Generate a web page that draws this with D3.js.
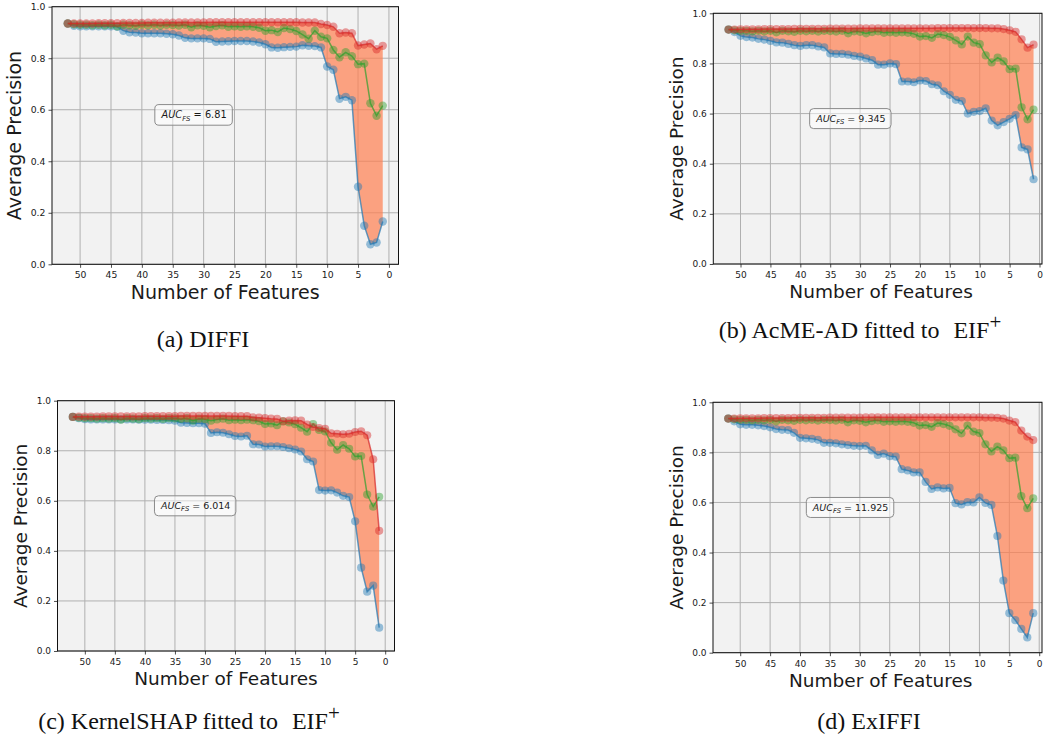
<!DOCTYPE html>
<html>
<head>
<meta charset="utf-8">
<script src="https://cdn.jsdelivr.net/npm/d3@7"></script>
<style>
  body { margin: 0; background: #fff; }
  svg text { font-family: "DejaVu Sans", sans-serif; fill: #1a1a1a; }
  svg text.caption { font-family: "Liberation Serif", "Times New Roman", serif; fill: #111; }
</style>
</head>
<body>
<div id="fig"></div>
<script>
// number of features kept (x axis), from all features down to one
var features = [52, 51, 50, 49, 48, 47, 46, 45, 44, 43, 42, 41, 40, 39, 38, 37, 36, 35, 34, 33, 32, 31, 30, 29, 28, 27,
                26, 25, 24, 23, 22, 21, 20, 19, 18, 17, 16, 15, 14, 13, 12, 11, 10, 9, 8, 7, 6, 5, 4, 3, 2, 1];
var xTicks = [50, 45, 40, 35, 30, 25, 20, 15, 10, 5, 0];
var yTicks = [0.0, 0.2, 0.4, 0.6, 0.8, 1.0];

// random feature order (green), same in every panel
var randomAP = [0.935, 0.932, 0.930, 0.930, 0.928, 0.930, 0.928, 0.930, 0.924, 0.930, 0.928, 0.926, 0.930, 0.928, 0.930, 0.927, 0.930, 0.929, 0.927, 0.930,
                0.920, 0.928, 0.926, 0.920, 0.925, 0.928, 0.922, 0.924, 0.922, 0.924, 0.922, 0.918, 0.907, 0.909, 0.902, 0.917, 0.913, 0.906, 0.892, 0.876,
                0.907, 0.883, 0.877, 0.832, 0.804, 0.823, 0.808, 0.777, 0.779, 0.625, 0.577, 0.616];

// (a) DIFFI
var diffiTop = [0.935, 0.935, 0.935, 0.935, 0.935, 0.936, 0.936, 0.936, 0.936, 0.937, 0.937, 0.937, 0.937, 0.938, 0.938, 0.938, 0.938, 0.938, 0.939, 0.939,
                0.939, 0.939, 0.939, 0.940, 0.940, 0.940, 0.940, 0.940, 0.940, 0.940, 0.940, 0.940, 0.940, 0.940, 0.940, 0.940, 0.940, 0.940, 0.939, 0.939,
                0.939, 0.933, 0.929, 0.922, 0.897, 0.900, 0.897, 0.849, 0.853, 0.857, 0.835, 0.848];
var diffiBottom = [0.935, 0.926, 0.924, 0.924, 0.924, 0.924, 0.924, 0.924, 0.922, 0.907, 0.901, 0.900, 0.897, 0.897, 0.897, 0.897, 0.895, 0.893, 0.888, 0.879,
                   0.877, 0.877, 0.877, 0.875, 0.864, 0.865, 0.866, 0.867, 0.867, 0.867, 0.865, 0.861, 0.854, 0.842, 0.841, 0.843, 0.844, 0.845, 0.850, 0.848,
                   0.847, 0.842, 0.768, 0.755, 0.643, 0.650, 0.637, 0.301, 0.150, 0.078, 0.085, 0.166];

// (b) AcME-AD fitted to EIF+
var acmeTop = [0.935, 0.935, 0.936, 0.936, 0.936, 0.936, 0.937, 0.937, 0.937, 0.937, 0.937, 0.938, 0.938, 0.938, 0.938, 0.938, 0.938, 0.939, 0.939, 0.939,
               0.939, 0.939, 0.940, 0.940, 0.940, 0.940, 0.940, 0.940, 0.940, 0.940, 0.940, 0.940, 0.940, 0.940, 0.940, 0.941, 0.941, 0.941, 0.941, 0.941,
               0.941, 0.941, 0.941, 0.941, 0.940, 0.940, 0.937, 0.932, 0.926, 0.896, 0.863, 0.875];
var acmeBottom = [0.935, 0.925, 0.910, 0.905, 0.903, 0.898, 0.895, 0.890, 0.884, 0.883, 0.878, 0.873, 0.870, 0.873, 0.873, 0.868, 0.864, 0.840, 0.838, 0.838,
                  0.835, 0.830, 0.827, 0.820, 0.813, 0.795, 0.795, 0.800, 0.797, 0.728, 0.728, 0.725, 0.732, 0.730, 0.717, 0.713, 0.689, 0.675, 0.655, 0.650,
                  0.600, 0.607, 0.610, 0.621, 0.572, 0.553, 0.566, 0.579, 0.594, 0.465, 0.457, 0.338];

// (c) KernelSHAP fitted to EIF+
var shapTop = [0.935, 0.936, 0.936, 0.936, 0.936, 0.937, 0.937, 0.937, 0.937, 0.937, 0.937, 0.937, 0.938, 0.938, 0.938, 0.938, 0.938, 0.938, 0.939, 0.939,
               0.939, 0.939, 0.939, 0.939, 0.939, 0.939, 0.939, 0.938, 0.938, 0.938, 0.933, 0.932, 0.930, 0.928, 0.927, 0.918, 0.920, 0.921, 0.920, 0.905,
               0.895, 0.891, 0.888, 0.870, 0.868, 0.866, 0.868, 0.875, 0.878, 0.862, 0.766, 0.480];
var shapBottom = [0.935, 0.930, 0.926, 0.925, 0.925, 0.925, 0.925, 0.925, 0.925, 0.925, 0.925, 0.924, 0.924, 0.924, 0.923, 0.923, 0.922, 0.920, 0.912, 0.911,
                  0.910, 0.910, 0.908, 0.871, 0.874, 0.872, 0.866, 0.859, 0.857, 0.860, 0.826, 0.825, 0.817, 0.818, 0.818, 0.815, 0.810, 0.805, 0.797, 0.766,
                  0.757, 0.643, 0.641, 0.642, 0.633, 0.620, 0.615, 0.518, 0.333, 0.237, 0.261, 0.093];

// (d) ExIFFI
var exiffiTop = [0.935, 0.935, 0.936, 0.936, 0.936, 0.936, 0.937, 0.937, 0.937, 0.937, 0.937, 0.938, 0.938, 0.938, 0.938, 0.938, 0.938, 0.939, 0.939, 0.939,
                 0.939, 0.939, 0.939, 0.940, 0.940, 0.940, 0.940, 0.940, 0.940, 0.940, 0.940, 0.940, 0.940, 0.940, 0.940, 0.940, 0.940, 0.940, 0.940, 0.940,
                 0.940, 0.940, 0.940, 0.939, 0.939, 0.938, 0.935, 0.927, 0.921, 0.887, 0.863, 0.849];
var exiffiBottom = [0.935, 0.924, 0.912, 0.910, 0.910, 0.908, 0.905, 0.900, 0.893, 0.890, 0.889, 0.878, 0.858, 0.856, 0.854, 0.850, 0.838, 0.838, 0.836, 0.832,
                    0.829, 0.826, 0.825, 0.826, 0.808, 0.790, 0.795, 0.785, 0.783, 0.733, 0.728, 0.720, 0.720, 0.682, 0.654, 0.660, 0.656, 0.658, 0.597, 0.592,
                    0.601, 0.600, 0.620, 0.598, 0.590, 0.466, 0.288, 0.158, 0.130, 0.095, 0.061, 0.158];

var aucValues = ['6.81', '9.345', '6.014', '11.925'];
var captionLabels = ['(a) DIFFI', '(b) AcME-AD fitted to', '(c) KernelSHAP fitted to', '(d) ExIFFI'];
var captionModel = [null, 'EIF', 'EIF', null];

// where each subfigure sits on the page
var boxes = [
  { left: 52,    top: 6.7,   width: 346.5, height: 257.6, right: 398.5, s: 1.03, capX: 203, capY: 347 },
  { left: 713.3, top: 13.3,  width: 335.5, height: 250.7, right: 1042,  s: 1.0,  capX: 860, capY: 338 },
  { left: 57.5,  top: 400.7, width: 337,   height: 250.3, right: 394.5, s: 1.0,  capX: 189, capY: 729 },
  { left: 713,   top: 402.3, width: 335.5, height: 250.4, right: 1042,  s: 1.0,  capX: 869, capY: 729 }
];

var svg = d3.select('#fig').append('svg')
  .attr('width', 1043)
  .attr('height', 743);

function createPanel(i, topData, bottomData) {
  var box = boxes[i];
  var s = box.s;
  var visW = Math.min(box.width, box.right - box.left);

  var g = svg.append('g')
    .attr('transform', 'translate(' + box.left + ',' + box.top + ')');

  var x = d3.scaleLinear().domain([54.55, -1.55]).range([0, box.width]);
  var y = d3.scaleLinear().domain([0, 1]).range([box.height, 0]);

  var rows = features.map(function(f, k) {
    return { n: f, hi: topData[k], lo: bottomData[k], mid: randomAP[k] };
  });

  g.append('rect')
    .attr('width', visW)
    .attr('height', box.height)
    .attr('fill', '#f2f2f2');

  // grid under the filled band
  g.selectAll('.vgrid')
    .data(xTicks.filter(function(t) { return x(t) <= visW; }))
    .enter().append('line')
    .attr('class', 'vgrid')
    .attr('x1', function(d) { return x(d); })
    .attr('x2', function(d) { return x(d); })
    .attr('y1', 0)
    .attr('y2', box.height)
    .attr('stroke', '#b0b0b0')
    .attr('stroke-width', 1);

  g.selectAll('.hgrid')
    .data(yTicks)
    .enter().append('line')
    .attr('class', 'hgrid')
    .attr('x1', 0)
    .attr('x2', visW)
    .attr('y1', function(d) { return y(d); })
    .attr('y2', function(d) { return y(d); })
    .attr('stroke', '#b0b0b0')
    .attr('stroke-width', 1);

  g.append('path')
    .datum(rows)
    .attr('d', d3.area()
      .x(function(d) { return x(d.n); })
      .y0(function(d) { return y(d.lo); })
      .y1(function(d) { return y(d.hi); }))
    .attr('fill', 'coral')
    .attr('fill-opacity', 0.7);

  var series = [
    { key: 'lo', color: '#1f77b4' },
    { key: 'mid', color: '#2ca02c' },
    { key: 'hi', color: '#d62728' }
  ];

  series.forEach(function(sr) {
    g.append('path')
      .datum(rows)
      .attr('d', d3.line()
        .x(function(d) { return x(d.n); })
        .y(function(d) { return y(d[sr.key]); }))
      .attr('fill', 'none')
      .attr('stroke', sr.color)
      .attr('stroke-width', 1.5)
      .attr('stroke-opacity', 0.7);

    g.selectAll('.dot-' + sr.key)
      .data(rows)
      .enter().append('circle')
      .attr('class', 'dot-' + sr.key)
      .attr('cx', function(d) { return x(d.n); })
      .attr('cy', function(d) { return y(d[sr.key]); })
      .attr('r', 4.1 * s)
      .attr('fill', sr.color)
      .attr('fill-opacity', 0.45);
  });

  // axes
  var xAxis = g.append('g')
    .attr('transform', 'translate(0,' + box.height + ')')
    .call(d3.axisBottom(x).tickValues(xTicks).tickSize(3.5).tickPadding(4 * s)
      .tickFormat(d3.format('d')));
  var yAxis = g.append('g')
    .call(d3.axisLeft(y).tickValues(yTicks).tickSize(3.5).tickPadding(3 * s)
      .tickFormat(d3.format('.1f')));
  [xAxis, yAxis].forEach(function(ax) {
    ax.select('.domain').remove();
    ax.selectAll('.tick line').attr('stroke', '#222').attr('stroke-width', 0.8);
    ax.selectAll('.tick text')
      .attr('font-size', 9 * s)
      .style('font-family', '"DejaVu Sans", sans-serif')
      .attr('fill', '#1a1a1a');
  });

  g.append('rect')
    .attr('width', visW)
    .attr('height', box.height)
    .attr('fill', 'none')
    .attr('stroke', '#111')
    .attr('stroke-width', 1);

  g.append('text')
    .attr('x', box.width / 2)
    .attr('y', box.height + 34 * s)
    .attr('text-anchor', 'middle')
    .attr('font-size', 18.5 * s)
    .text('Number of Features');

  g.append('text')
    .attr('transform', 'translate(' + (-30.5 * s) + ',' + (box.height / 2) + ') rotate(-90)')
    .attr('text-anchor', 'middle')
    .attr('font-size', 18.5 * s)
    .text('Average Precision');

  // AUC_FS annotation
  var note = g.append('g')
    .attr('transform', 'translate(' + (box.width * 0.41) + ',' + y(0.58) + ')');
  var noteBg = note.append('rect');
  var label = note.append('text')
    .attr('font-size', 9.5 * s)
    .attr('text-anchor', 'middle')
    .attr('dy', '0.35em');
  label.append('tspan').attr('font-style', 'italic').text('AUC');
  label.append('tspan').attr('font-style', 'italic').attr('font-size', 6.7 * s).attr('dy', 2.2 * s).text('FS');
  label.append('tspan').attr('dy', -2.2 * s).text('\u00a0=\u00a0' + aucValues[i]);
  var bb = label.node().getBBox();
  noteBg
    .attr('x', bb.x - 5.5 * s)
    .attr('y', -10 * s)
    .attr('width', bb.width + 11 * s)
    .attr('height', 20 * s)
    .attr('rx', 4 * s)
    .attr('fill', '#fff')
    .attr('fill-opacity', 0.5)
    .attr('stroke', '#8a8a8a')
    .attr('stroke-width', 1);

  // caption under the subfigure
  var cap = svg.append('text')
    .attr('class', 'caption')
    .attr('x', box.capX)
    .attr('y', box.capY)
    .attr('text-anchor', 'middle')
    .attr('font-size', 24);
  cap.append('tspan').text(captionLabels[i]);
  if (captionModel[i]) {
    cap.append('tspan').attr('dx', 14).text(captionModel[i]);
    cap.append('tspan').attr('font-size', 21).attr('dy', -9).text('+');
  }
}

createPanel(0, diffiTop, diffiBottom);
createPanel(1, acmeTop, acmeBottom);
createPanel(2, shapTop, shapBottom);
createPanel(3, exiffiTop, exiffiBottom);
</script>
</body>
</html>
